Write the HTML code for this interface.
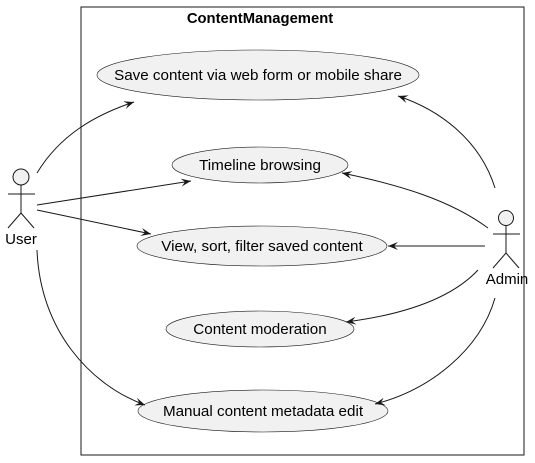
<!DOCTYPE html><html><head><style>body{margin:0;background:#fff}svg{display:block}text{font-family:"Liberation Sans",sans-serif}</style></head><body>
<svg width="535" height="463" xmlns="http://www.w3.org/2000/svg">
<defs><marker id="a" viewBox="0 0 10 8" refX="10" refY="4" markerWidth="10" markerHeight="8" orient="auto" markerUnits="userSpaceOnUse"><path d="M0,0 L10,4 L0,8 L4,4 Z" fill="#181818"/></marker></defs>
<rect x="81" y="7" width="443" height="448" fill="none" stroke="#181818" stroke-width="1"/>
<text x="260" y="23" text-anchor="middle" font-size="14.8" font-weight="bold">ContentManagement</text>
<g fill="#f1f1f1" stroke="#181818" stroke-width="0.6">
<ellipse cx="258" cy="75" rx="161" ry="25"/>
<ellipse cx="260" cy="165" rx="88" ry="18"/>
<ellipse cx="262" cy="246" rx="125" ry="20"/>
<ellipse cx="260" cy="329" rx="94" ry="18"/>
<ellipse cx="263" cy="411" rx="125" ry="21"/>
</g>
<g font-size="15.2" text-anchor="middle" fill="#000">
<text x="258" y="80">Save content via web form or mobile share</text>
<text x="260" y="170">Timeline browsing</text>
<text x="262" y="251">View, sort, filter saved content</text>
<text x="260" y="334">Content moderation</text>
<text x="263" y="416">Manual content metadata edit</text>
</g>
<g fill="none" stroke="#181818" stroke-width="1">
<circle cx="21" cy="177" r="8" fill="#f1f1f1"/>
<path d="M21,185V213M8,194H35M21,213L8,228M21,213L34,228"/>
<circle cx="506" cy="218" r="7.5" fill="#f1f1f1"/>
<path d="M506,226V253M493,234H520M506,253L493,268M506,253L519,268"/>
</g>
<text x="21" y="244" font-size="15" text-anchor="middle">User</text>
<text x="507" y="284" font-size="15" text-anchor="middle">Admin</text>
<g fill="none" stroke="#181818" stroke-width="1" marker-end="url(#a)">
<path d="M37,173 C60,135 95,115 134,102"/>
<path d="M37,205 L191,181"/>
<path d="M37,210 L151,234"/>
<path d="M37,250 C40,330 90,385 145,405"/>
<path d="M495,188 C480,140 440,110 398,96"/>
<path d="M488,228 C450,200 400,185 342,173"/>
<path d="M485,246 L388,246"/>
<path d="M478,270 C450,300 400,315 346,322"/>
<path d="M495,298 C480,350 430,390 375,404"/>
</g>
</svg></body></html>
